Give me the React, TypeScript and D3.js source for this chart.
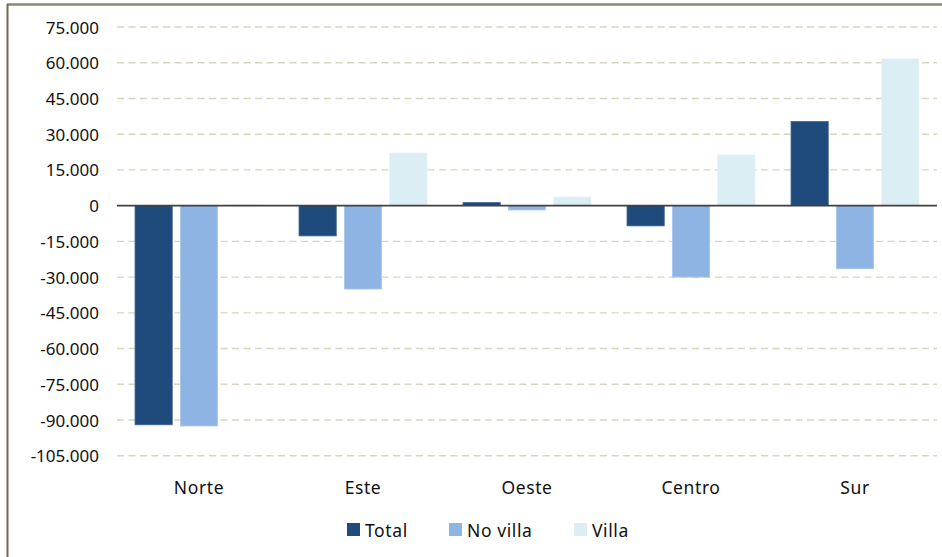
import React from 'react'
import * as d3 from 'd3'

const regions = ['Norte', 'Este', 'Oeste', 'Centro', 'Sur']
const seriesNames = ['Total', 'No villa', 'Villa']
const totalValues = [-92000, -12700, 1300, -8500, 35300]
const noVillaValues = [-92500, -35000, -1800, -30000, -26500]
const villaValues = [300, 22100, 3600, 21300, 61600]
const yTicks = [75000, 60000, 45000, 30000, 15000, 0, -15000, -30000, -45000, -60000, -75000, -90000, -105000]

const colors = ['#1f4a7c', '#8eb4e3', '#dbeef4']
const outlines = ['#3d6393', '#a9c6ea', '#e6f3f7']

const W = 942
const H = 557
const margin = { top: 27, right: 5, bottom: 101, left: 117 }
const FONT = "'Noto Sans', 'Open Sans', sans-serif"

export default function App() {
  const series = [totalValues, noVillaValues, villaValues]

  const x = d3
    .scaleBand()
    .domain(regions)
    .range([margin.left, W - margin.right])
    .paddingInner(0.22)
    .paddingOuter(0.11)

  const inner = d3.scaleBand().domain(seriesNames).range([0, x.bandwidth()]).paddingInner(0.18)

  const y = d3
    .scaleLinear()
    .domain([-105000, 75000])
    .range([H - margin.bottom - 0.25, margin.top])

  // es-style thousands with '.', plain hyphen for negatives
  const fmt = (v: number) => (v === 0 ? '0' : d3.format(',')(v).replace(/,/g, '.').replace('\u2212', '-'))

  const legendX = [347, 449, 574]

  return (
    <div style={{ position: 'fixed', left: 0, top: 0 }}>
      <svg width={W} height={H} style={{ display: 'block', background: '#fff' }}>
        {/* frame */}
        <line x1={7} y1={4.5} x2={W} y2={4.5} stroke="#8b8775" strokeWidth={2.5} />
        <line x1={7.5} y1={4} x2={7.5} y2={H} stroke="#6f6a55" strokeWidth={2} />

        {/* gridlines */}
        {yTicks
          .filter((t) => t !== 0)
          .map((t) => (
            <line
              key={'g' + t}
              x1={margin.left}
              x2={W - margin.right}
              y1={y(t)}
              y2={y(t)}
              stroke="#d9d4bc"
              strokeWidth={1.4}
              strokeDasharray="7,4.5"
            />
          ))}

        {/* tick labels */}
        {yTicks.map((t) => (
          <text
            key={'t' + t}
            x={99}
            y={y(t)}
            textAnchor="end"
            dominantBaseline="central"
            fontFamily={FONT}
            fontSize={17}
            fill="#111"
          >
            {fmt(t)}
          </text>
        ))}

        {/* bars */}
        {regions.map((r, i) => (
          <g key={r} transform={`translate(${x(r)},0)`}>
            {series.map((vals, s) => {
              const v = vals[i]
              const y0 = y(0)
              const y1 = y(v)
              return (
                <rect
                  key={s}
                  x={inner(seriesNames[s])}
                  y={Math.min(y0, y1)}
                  width={inner.bandwidth()}
                  height={Math.abs(y1 - y0)}
                  fill={colors[s]}
                  stroke={outlines[s]}
                  strokeWidth={0.8}
                />
              )
            })}
          </g>
        ))}

        {/* zero line */}
        <line
          x1={margin.left}
          x2={W - margin.right}
          y1={y(0)}
          y2={y(0)}
          stroke="#404040"
          strokeWidth={1.6}
        />

        {/* category labels */}
        {regions.map((r) => (
          <text
            key={'c' + r}
            x={(x(r) ?? 0) + x.bandwidth() / 2}
            y={487}
            textAnchor="middle"
            dominantBaseline="central"
            fontFamily={FONT}
            fontSize={17.5}
            letterSpacing={0.6}
            fill="#111"
          >
            {r}
          </text>
        ))}

        {/* legend */}
        {seriesNames.map((n, s) => (
          <g key={'l' + n} transform={`translate(${legendX[s]},523)`}>
            <rect x={0} y={0} width={13} height={13} fill={colors[s]} />
            <text
              x={18}
              y={7}
              dominantBaseline="central"
              fontFamily={FONT}
              fontSize={17.5}
              letterSpacing={0.6}
              fill="#111"
            >
              {n}
            </text>
          </g>
        ))}
      </svg>
    </div>
  )
}
